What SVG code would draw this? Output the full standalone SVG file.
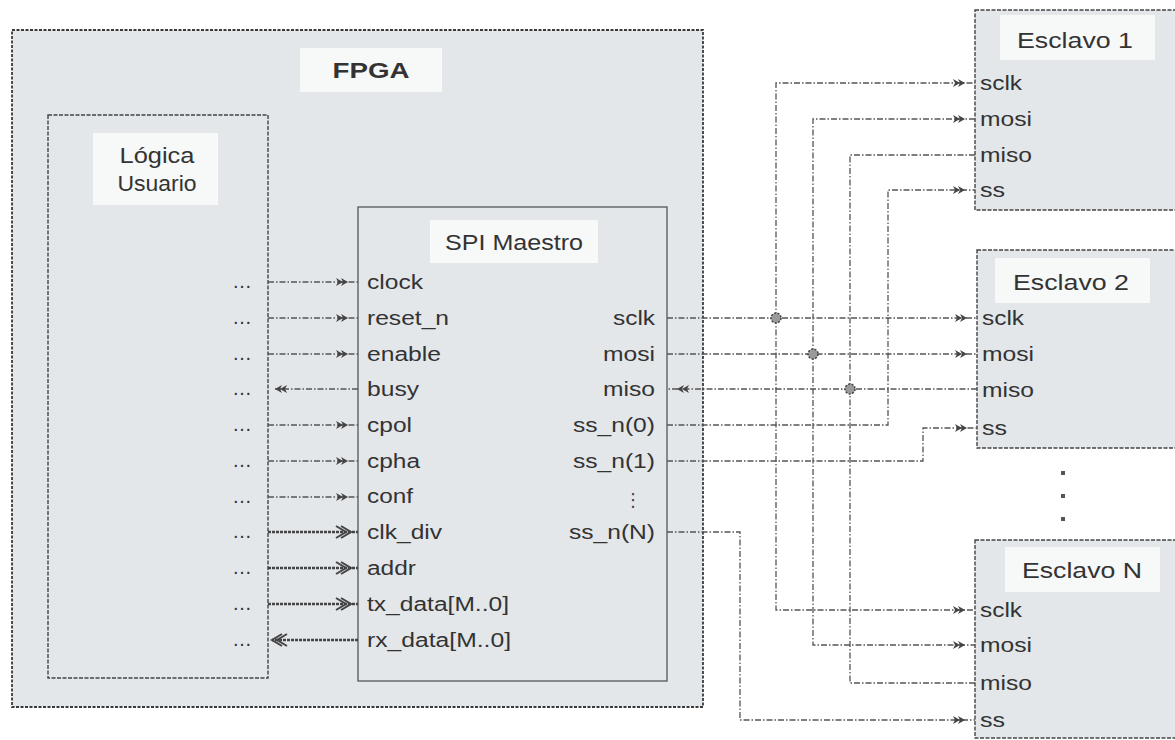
<svg xmlns="http://www.w3.org/2000/svg" width="1175" height="740" viewBox="0 0 1175 740">
<style>
.bg{fill:#e3e7ea}
.fpga{fill:#e3e7ea;stroke:#3a3a3a;stroke-width:1.8;stroke-dasharray:3 1.5}
.blk{fill:#e3e7ea;stroke:#444;stroke-width:1.4;stroke-dasharray:4 1.5}
.spi{fill:#e3e7ea;stroke:#555;stroke-width:1.3}
.lbl{fill:#f7f8f8;stroke:none}
.t{font-family:"Liberation Sans",Arial,sans-serif;font-size:20px;fill:#333}
.h{font-family:"Liberation Sans",Arial,sans-serif;font-size:22px;fill:#333}
.hb{font-family:"Liberation Sans",Arial,sans-serif;font-size:22px;font-weight:bold;fill:#333}
.c{fill:none;stroke:#555;stroke-width:1.3;stroke-dasharray:6 2 1.5 2}
.bus{fill:none;stroke:#444;stroke-width:2.4;stroke-dasharray:3 1}
.dot{fill:#9a9a9a;stroke:#444;stroke-width:1.5;stroke-dasharray:2 1.5}
</style>
<defs>
<marker id="a" orient="auto" markerUnits="userSpaceOnUse" markerWidth="1" markerHeight="1" refX="0" refY="0" overflow="visible"><path d="M-22,-4 L-15,0 L-22,4 L-20,0 Z M-17,-4 L-10,0 L-17,4 L-15,0 Z" fill="#444"/></marker>
<marker id="a0" orient="auto" markerUnits="userSpaceOnUse" markerWidth="1" markerHeight="1" refX="0" refY="0" overflow="visible"><path d="M-12,-4 L-5,0 L-12,4 L-10,0 Z M-7,-4 L0,0 L-7,4 L-5,0 Z" fill="#444"/></marker>
<marker id="b" orient="auto" markerUnits="userSpaceOnUse" markerWidth="1" markerHeight="1" refX="0" refY="0" overflow="visible"><path d="M-22,-6 L-12,0 L-22,6 M-17,-6 L-7,0 L-17,6" fill="none" stroke="#444" stroke-width="2"/></marker>
<marker id="b0" orient="auto" markerUnits="userSpaceOnUse" markerWidth="1" markerHeight="1" refX="0" refY="0" overflow="visible"><path d="M-15,-6 L-5,0 L-15,6 M-10,-6 L0,0 L-10,6" fill="none" stroke="#444" stroke-width="2"/></marker>
</defs>
<rect width="1175" height="740" fill="#ffffff"/>

<g id="fpga">
<rect class="fpga" x="12" y="30" width="691" height="677"/>
<rect class="lbl" x="300" y="48" width="142" height="44"/>
<text class="hb" x="371" y="78" text-anchor="middle" textLength="77" lengthAdjust="spacingAndGlyphs">FPGA</text>
</g>

<g id="logica">
<rect class="blk" x="48" y="115" width="220" height="563"/>
<rect class="lbl" x="93" y="133" width="125" height="72"/>
<text class="h" x="157" y="163" text-anchor="middle" textLength="75" lengthAdjust="spacingAndGlyphs">Lógica</text>
<text class="h" x="157" y="191" text-anchor="middle" textLength="79" lengthAdjust="spacingAndGlyphs">Usuario</text>
<g class="t" font-size="16">
<text x="233" y="288" textLength="18" lengthAdjust="spacing">...</text>
<text x="233" y="324" textLength="18" lengthAdjust="spacing">...</text>
<text x="233" y="360" textLength="18" lengthAdjust="spacing">...</text>
<text x="233" y="395" textLength="18" lengthAdjust="spacing">...</text>
<text x="233" y="431" textLength="18" lengthAdjust="spacing">...</text>
<text x="233" y="467" textLength="18" lengthAdjust="spacing">...</text>
<text x="233" y="503" textLength="18" lengthAdjust="spacing">...</text>
<text x="233" y="538" textLength="18" lengthAdjust="spacing">...</text>
<text x="233" y="574" textLength="18" lengthAdjust="spacing">...</text>
<text x="233" y="610" textLength="18" lengthAdjust="spacing">...</text>
<text x="233" y="646" textLength="18" lengthAdjust="spacing">...</text>
</g>
</g>

<g id="spi">
<rect class="spi" x="358" y="207" width="309" height="474"/>
<rect class="lbl" x="430" y="220" width="168" height="43"/>
<text class="h" x="514" y="250" text-anchor="middle" textLength="138" lengthAdjust="spacingAndGlyphs">SPI Maestro</text>
<text class="t" x="367" y="289" textLength="56" lengthAdjust="spacingAndGlyphs">clock</text>
<text class="t" x="367" y="325" textLength="82" lengthAdjust="spacingAndGlyphs">reset_n</text>
<text class="t" x="367" y="361" textLength="74" lengthAdjust="spacingAndGlyphs">enable</text>
<text class="t" x="367" y="396" textLength="52" lengthAdjust="spacingAndGlyphs">busy</text>
<text class="t" x="367" y="432" textLength="45" lengthAdjust="spacingAndGlyphs">cpol</text>
<text class="t" x="367" y="468" textLength="53" lengthAdjust="spacingAndGlyphs">cpha</text>
<text class="t" x="367" y="503" textLength="46" lengthAdjust="spacingAndGlyphs">conf</text>
<text class="t" x="367" y="539" textLength="75" lengthAdjust="spacingAndGlyphs">clk_div</text>
<text class="t" x="367" y="575" textLength="49" lengthAdjust="spacingAndGlyphs">addr</text>
<text class="t" x="367" y="611" textLength="142" lengthAdjust="spacingAndGlyphs">tx_data[M..0]</text>
<text class="t" x="367" y="647" textLength="144" lengthAdjust="spacingAndGlyphs">rx_data[M..0]</text>
<text class="t" x="655" y="325" text-anchor="end" textLength="42" lengthAdjust="spacingAndGlyphs">sclk</text>
<text class="t" x="655" y="361" text-anchor="end" textLength="52" lengthAdjust="spacingAndGlyphs">mosi</text>
<text class="t" x="655" y="396" text-anchor="end" textLength="52" lengthAdjust="spacingAndGlyphs">miso</text>
<text class="t" x="655" y="432" text-anchor="end" textLength="82" lengthAdjust="spacingAndGlyphs">ss_n(0)</text>
<text class="t" x="655" y="468" text-anchor="end" textLength="82" lengthAdjust="spacingAndGlyphs">ss_n(1)</text>
<text x="633" y="506" text-anchor="middle" font-family="DejaVu Sans, sans-serif" font-size="18" fill="#444">⋮</text>
<text class="t" x="655" y="539" text-anchor="end" textLength="86" lengthAdjust="spacingAndGlyphs">ss_n(N)</text>
</g>

<g id="esclavo1">
<rect class="blk" x="975" y="10" width="230" height="200"/>
<rect class="lbl" x="1000" y="15" width="155" height="45"/>
<text class="h" x="1075" y="48" text-anchor="middle" textLength="116" lengthAdjust="spacingAndGlyphs">Esclavo 1</text>
<text class="t" x="980" y="90" textLength="42" lengthAdjust="spacingAndGlyphs">sclk</text>
<text class="t" x="980" y="126" textLength="52" lengthAdjust="spacingAndGlyphs">mosi</text>
<text class="t" x="980" y="162" textLength="52" lengthAdjust="spacingAndGlyphs">miso</text>
<text class="t" x="980" y="197" textLength="25" lengthAdjust="spacingAndGlyphs">ss</text>
</g>

<g id="esclavo2">
<rect class="blk" x="977" y="250" width="230" height="198"/>
<rect class="lbl" x="995" y="258" width="155" height="45"/>
<text class="h" x="1071" y="290" text-anchor="middle" textLength="116" lengthAdjust="spacingAndGlyphs">Esclavo 2</text>
<text class="t" x="982" y="325" textLength="42" lengthAdjust="spacingAndGlyphs">sclk</text>
<text class="t" x="982" y="361" textLength="52" lengthAdjust="spacingAndGlyphs">mosi</text>
<text class="t" x="982" y="397" textLength="52" lengthAdjust="spacingAndGlyphs">miso</text>
<text class="t" x="982" y="435" textLength="25" lengthAdjust="spacingAndGlyphs">ss</text>
</g>

<g id="dots">
<rect x="1061" y="471" width="4" height="4" fill="#555"/>
<rect x="1061" y="494" width="4" height="4" fill="#555"/>
<rect x="1061" y="517" width="4" height="4" fill="#555"/>
</g>

<g id="esclavoN">
<rect class="blk" x="975" y="540" width="230" height="198"/>
<rect class="lbl" x="1005" y="547" width="155" height="45"/>
<text class="h" x="1082" y="578" text-anchor="middle" textLength="120" lengthAdjust="spacingAndGlyphs">Esclavo N</text>
<text class="t" x="980" y="617" textLength="42" lengthAdjust="spacingAndGlyphs">sclk</text>
<text class="t" x="980" y="652" textLength="52" lengthAdjust="spacingAndGlyphs">mosi</text>
<text class="t" x="980" y="690" textLength="52" lengthAdjust="spacingAndGlyphs">miso</text>
<text class="t" x="980" y="727" textLength="25" lengthAdjust="spacingAndGlyphs">ss</text>
</g>

<g id="connectors">
<path class="c" d="M268,282 H358" marker-end="url(#a)"/>
<path class="c" d="M268,318 H358" marker-end="url(#a)"/>
<path class="c" d="M268,354 H358" marker-end="url(#a)"/>
<path class="c" d="M358,389 H275" marker-end="url(#a0)"/>
<path class="c" d="M268,425 H358" marker-end="url(#a)"/>
<path class="c" d="M268,461 H358" marker-end="url(#a)"/>
<path class="c" d="M268,497 H358" marker-end="url(#a)"/>
<path class="bus" d="M268,532 H358" marker-end="url(#b)"/>
<path class="bus" d="M268,568 H358" marker-end="url(#b)"/>
<path class="bus" d="M268,604 H358" marker-end="url(#b)"/>
<path class="bus" d="M358,640 H272" marker-end="url(#b0)"/>

<path class="c" d="M667,318 H977" marker-end="url(#a)"/>
<path class="c" d="M776,318 V83 H975" marker-end="url(#a)"/>
<path class="c" d="M776,318 V610 H975" marker-end="url(#a)"/>
<path class="c" d="M667,354 H977" marker-end="url(#a)"/>
<path class="c" d="M813,354 V119 H975" marker-end="url(#a)"/>
<path class="c" d="M813,354 V645 H975" marker-end="url(#a)"/>
<path class="c" d="M977,389 H667" marker-end="url(#a)"/>
<path class="c" d="M975,155 H850 V389"/>
<path class="c" d="M975,683 H850 V389"/>
<path class="c" d="M667,425 H888 V190 H975" marker-end="url(#a)"/>
<path class="c" d="M667,461 H923 V428 H977" marker-end="url(#a)"/>
<path class="c" d="M667,532 H740 V720 H975" marker-end="url(#a)"/>
<circle class="dot" cx="776" cy="318" r="5"/>
<circle class="dot" cx="813" cy="354" r="5"/>
<circle class="dot" cx="850" cy="389" r="5"/>
</g>
</svg>
